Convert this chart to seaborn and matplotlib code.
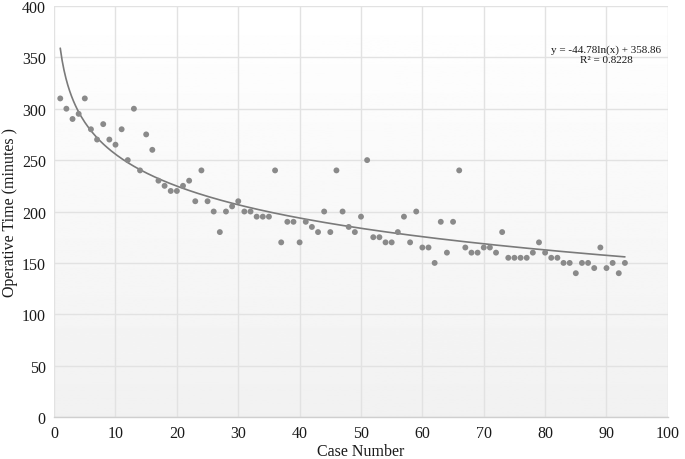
import matplotlib

matplotlib.use("Agg")
import matplotlib.pyplot as plt
import numpy as np
import pandas as pd
import seaborn as sns

CASE_NUMBERS: list[int] = list(range(1, 94))
OPERATIVE_TIMES: list[int] = [
    310, 300, 290, 295, 310, 280, 270, 285, 270, 265,
    280, 250, 300, 240, 275, 260, 230, 225, 220, 220,
    225, 230, 210, 240, 210, 200, 180, 200, 205, 210,
    200, 200, 195, 195, 195, 240, 170, 190, 190, 170,
    190, 185, 180, 200, 180, 240, 200, 185, 180, 195,
    250, 175, 175, 170, 170, 180, 195, 170, 200, 165,
    165, 150, 190, 160, 190, 240, 165, 160, 160, 165,
    165, 160, 180, 155, 155, 155, 155, 160, 170, 160,
    155, 155, 150, 150, 140, 150, 150, 145, 165, 145,
    150, 140, 150,
]
TREND_SLOPE = -44.78
TREND_INTERCEPT = 358.86
R_SQUARED = 0.8228
X_TICKS: list[int] = list(range(0, 101, 10))
Y_TICKS: list[int] = list(range(0, 401, 50))

POINT_COLOR = "#8a8a8a"
LINE_COLOR = "#7a7a7a"
GRID_COLOR = "#e2e2e2"
TEXT_COLOR = "#1a1a1a"


def main() -> None:
    sns.set_style("whitegrid")
    plt.rcParams["font.family"] = ["Liberation Serif", "DejaVu Serif"]

    df = pd.DataFrame({"Case": CASE_NUMBERS, "Time": OPERATIVE_TIMES})
    trend_x = np.linspace(min(CASE_NUMBERS), max(CASE_NUMBERS), 300)
    trend_df = pd.DataFrame({"Case": trend_x, "Time": TREND_SLOPE * np.log(trend_x) + TREND_INTERCEPT})

    fig = plt.figure(figsize=(6.85, 4.6), dpi=100)
    ax = fig.add_axes([0.079, 0.091, 0.896, 0.894])

    # soft vertical gradient behind the plot area
    gradient = np.linspace(1.0, 0.945, 256).reshape(-1, 1)
    ax.imshow(
        gradient, cmap="gray", vmin=0, vmax=1, aspect="auto",
        extent=(X_TICKS[0], X_TICKS[-1], Y_TICKS[0], Y_TICKS[-1]),
        origin="upper", zorder=0,
    )

    sns.lineplot(data=trend_df, x="Case", y="Time", ax=ax, color=LINE_COLOR, linewidth=1.2, zorder=3)
    sns.scatterplot(data=df, x="Case", y="Time", ax=ax, color=POINT_COLOR, s=18, edgecolor="none", zorder=4)

    ax.set_xlim(X_TICKS[0], X_TICKS[-1])
    ax.set_ylim(Y_TICKS[0], Y_TICKS[-1])
    ax.set_xticks(X_TICKS)
    ax.set_yticks(Y_TICKS)
    ax.grid(True, color=GRID_COLOR, linewidth=1.0, zorder=1)
    ax.set_axisbelow(True)
    for side in ["top", "right", "left"]:
        ax.spines[side].set_visible(False)
    ax.spines["bottom"].set_color("#cfcfcf")
    ax.spines["bottom"].set_linewidth(1.0)
    ax.tick_params(axis="both", length=0, labelsize=11.5, colors=TEXT_COLOR, pad=6)

    ax.set_xlabel("Case Number", fontsize=11.5, color=TEXT_COLOR, labelpad=1)
    ax.set_ylabel("Operative Time (minutes )", fontsize=11.5, color=TEXT_COLOR, labelpad=3)

    ax.text(
        90, 353, f"y = {TREND_SLOPE}ln(x) + {TREND_INTERCEPT}\nR² = {R_SQUARED}",
        ha="center", va="center", fontsize=8, color=TEXT_COLOR, linespacing=1.1, zorder=5,
    )

    fig.savefig("out.png", dpi=100)


if __name__ == "__main__":
    main()
